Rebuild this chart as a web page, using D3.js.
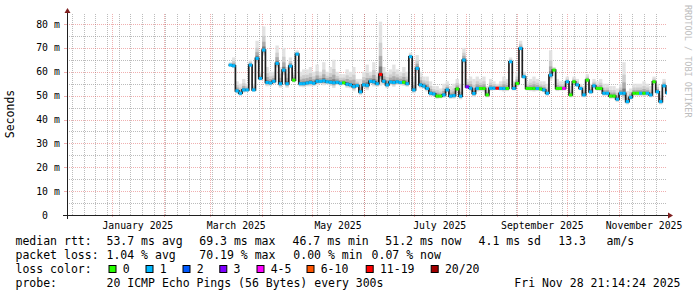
<!DOCTYPE html>
<html>
<head>
<meta charset="utf-8">
<script src="https://cdn.jsdelivr.net/npm/d3@7"></script>
<style>
body { margin: 0; background: #fff; }
svg { display: block; font-family: "DejaVu Sans Mono", monospace; }
</style>
</head>
<body>
<svg id="graph" width="697" height="297"></svg>
<script>
// data, one sample every 2 days from Mar 12 2025
const startData = new Date(2025, 2, 12);
const stepDays = 2;

const medianMs = [
  62.8, 62.5, 52.0, 51.0, 52.4, 52.4, 62.8, 52.4, 65.6, 57.2,
  69.1, 55.5, 55.3, 56.0, 63.5, 55.0, 60.7, 55.0, 62.4, 56.5,
  67.4, 55.0, 55.0, 55.3, 55.5, 55.2, 56.0, 56.0, 56.2, 55.8,
  55.6, 55.4, 55.6, 55.2, 55.4, 54.8, 54.5, 53.8, 54.2, 51.6,
  54.5, 54.3, 56.0, 55.8, 55.0, 58.9, 56.0, 54.5, 55.7, 55.5,
  55.8, 55.5, 55.6, 55.0, 66.3, 52.4, 61.4, 54.5, 54.0, 53.0,
  51.0, 50.7, 49.8, 49.8, 50.3, 52.4, 49.8, 50.0, 52.8, 49.8,
  64.9, 53.7, 53.1, 50.9, 53.0, 53.0, 53.0, 50.3, 53.1, 53.1,
  53.1, 53.0, 53.0, 53.0, 64.2, 53.0, 55.1, 69.8, 57.9, 53.0,
  53.0, 53.0, 53.0, 52.8, 52.4, 51.0, 58.6, 60.7, 53.0, 53.0,
  53.0, 55.8, 50.3, 55.8, 54.5, 53.0, 50.3, 56.5, 51.6, 54.1,
  53.0, 53.0, 51.0, 51.0, 49.8, 49.8, 48.5, 51.0, 51.0, 47.5,
  49.3, 51.0, 51.0, 51.0, 51.0, 51.0, 50.3, 55.8, 51.6, 47.5,
  54.1, 51.2
];

// upper edge of the smoke (slowest pings)
const smokeTopMs = [
  64, 66, 56, 55, 57, 55, 65, 55, 73, 60,
  79, 62, 60, 60, 71, 62, 70, 62, 66, 60,
  69, 60, 61, 61, 62, 60, 63, 60, 64, 60,
  62, 65, 60, 59, 59, 61, 60, 62, 57, 57,
  60, 63, 60, 64, 60, 81, 62, 60, 61, 63,
  61, 60, 62, 60, 68, 58, 67, 60, 58, 58,
  56, 54, 54, 53, 55, 56, 54, 55, 57, 55,
  70, 57, 58, 57, 58, 57, 58, 54, 57, 56,
  55, 56, 58, 57, 66, 56, 60, 73, 60, 56,
  57, 58, 57, 56, 56, 55, 69, 62, 57, 56,
  56, 58, 54, 58, 57, 55, 54, 59, 55, 57,
  56, 57, 55, 55, 54, 54, 53, 55, 64, 52,
  53, 55, 55, 55, 56, 55, 54, 58, 55, 52,
  57, 54
];

// loss class of each sample (index into lossLabels)
const lossIdx = [
  1, 1, 1, 1, 1, 1, 1, 1, 1, 1,
  1, 1, 1, 1, 1, 1, 1, 1, 1, 0,
  1, 1, 1, 1, 1, 1, 1, 1, 1, 1,
  1, 1, 1, 1, 0, 1, 1, 1, 1, 1,
  1, 1, 1, 1, 1, 6, 1, 1, 1, 1,
  1, 1, 0, 1, 1, 1, 1, 1, 1, 1,
  1, 1, 0, 0, 1, 1, 1, 1, 0, 1,
  1, 3, 1, 1, 1, 0, 0, 0, 1, 1,
  6, 1, 1, 0, 1, 1, 0, 1, 1, 0,
  0, 0, 1, 0, 1, 1, 1, 0, 0, 0,
  4, 1, 0, 0, 1, 1, 1, 0, 1, 1,
  0, 0, 1, 1, 0, 0, 1, 1, 1, 1,
  1, 0, 0, 1, 0, 1, 1, 0, 1, 1,
  1, 1
];

const lossLabels = ["0", "1", "2", "3", "4-5", "6-10", "11-19", "20/20"];
const lossColors = ["#26ff00", "#00b8ff", "#0059ff", "#7e00ff", "#ff00ff", "#ff5500", "#ff0000", "#a10000"];

const yTicks = [0, 10, 20, 30, 40, 50, 60, 70, 80];
const xTickLabels = ["January 2025", "March 2025", "May 2025", "July 2025", "September 2025", "November 2025"];

const rttStats = ["53.7 ms avg", "69.3 ms max", "46.7 ms min", "51.2 ms now", "4.1 ms sd", "13.3", "am/s"];
const lossStats = ["1.04 % avg", "70.19 % max", "0.00 % min", "0.07 % now"];
const probeText = "20 ICMP Echo Pings (56 Bytes) every 300s";
const stampText = "Fri Nov 28 21:14:24 2025";

// layout
const plotLeft = 67, plotRight = 667, plotTop = 14, plotBottom = 215;
const svg = d3.select('#graph');

const x = d3.scaleTime()
    .domain([new Date(2024, 11, 5, 0, 30), new Date(2025, 10, 29, 18, 30)])
    .range([plotLeft, plotRight]);
const y = d3.scaleLinear()
    .domain([0, 84.2])
    .range([plotBottom, plotTop]);

const gridCol = 'rgba(143,143,143,0.6)';
const mgridCol = 'rgba(222,79,79,0.45)';

// minor grid
const grid = svg.append('g').attr('shape-rendering', 'crispEdges');
grid.selectAll('.hmin')
    .data(d3.range(5, 84, 5).filter(v => v % 10 !== 0))
    .enter().append('line')
    .attr('x1', plotLeft).attr('x2', plotRight)
    .attr('y1', d => Math.round(y(d)) + 0.5).attr('y2', d => Math.round(y(d)) + 0.5)
    .attr('stroke', gridCol).attr('stroke-dasharray', '1,1');
grid.selectAll('.vmin')
    .data(d3.timeSunday.range(x.domain()[0], x.domain()[1]))
    .enter().append('line')
    .attr('x1', d => Math.round(x(d)) + 0.5).attr('x2', d => Math.round(x(d)) + 0.5)
    .attr('y1', plotTop).attr('y2', plotBottom)
    .attr('stroke', gridCol).attr('stroke-dasharray', '1,1');

// major grid
grid.selectAll('.hmaj')
    .data(yTicks)
    .enter().append('line')
    .attr('x1', plotLeft).attr('x2', plotRight)
    .attr('y1', d => Math.round(y(d)) + 0.5).attr('y2', d => Math.round(y(d)) + 0.5)
    .attr('stroke', mgridCol).attr('stroke-dasharray', '1,1');
grid.selectAll('.hmajtick')
    .data(yTicks)
    .enter().append('line')
    .attr('x1', plotLeft - 3).attr('x2', plotLeft)
    .attr('y1', d => Math.round(y(d)) + 0.5).attr('y2', d => Math.round(y(d)) + 0.5)
    .attr('stroke', mgridCol);
grid.selectAll('.vmaj')
    .data(d3.timeMonth.range(x.domain()[0], x.domain()[1]))
    .enter().append('line')
    .attr('x1', d => Math.round(x(d)) + 0.5).attr('x2', d => Math.round(x(d)) + 0.5)
    .attr('y1', plotTop).attr('y2', plotBottom + 2)
    .attr('stroke', mgridCol).attr('stroke-dasharray', '1,1');

// the data
const samples = medianMs.map((m, i) => ({
  t0: d3.timeDay.offset(startData, i * stepDays),
  t1: d3.timeDay.offset(startData, (i + 1) * stepDays),
  med: m,
  hi: smokeTopMs[i],
  loss: lossIdx[i]
}));

svg.append('clipPath').attr('id', 'plot')
  .append('rect').attr('x', plotLeft).attr('y', plotTop)
  .attr('width', plotRight - plotLeft).attr('height', plotBottom - plotTop);

const chart = svg.append('g').attr('clip-path', 'url(#plot)');

// smoke, lighter the farther from the median
const shades = [[1.0, '#e2e2e2'], [0.6, '#cdcdcd'], [0.35, '#ababab'], [0.15, '#7c7c7c']];
shades.forEach(([f, col]) => {
  chart.append('g').selectAll('rect')
    .data(samples)
    .enter().append('rect')
    .attr('x', d => x(d.t0))
    .attr('width', d => x(d.t1) - x(d.t0))
    .attr('y', d => y(d.med + f * (d.hi - d.med)))
    .attr('height', d => y(d.med - f * 0.2 * (d.hi - d.med) - 0.3) - y(d.med + f * (d.hi - d.med)))
    .attr('fill', col);
});

// median line
const medLine = d3.line()
    .x(d => x(d[0]))
    .y(d => y(d[1]))
    .curve(d3.curveStepAfter);
const pts = samples.map(d => [d.t0, d.med]);
pts.push([samples[samples.length - 1].t1, samples[samples.length - 1].med]);
chart.append('path')
    .attr('d', medLine(pts))
    .attr('fill', 'none')
    .attr('stroke', '#202020')
    .attr('stroke-width', 1.7);

// median coloured by loss
chart.append('g').selectAll('rect')
    .data(samples)
    .enter().append('rect')
    .attr('x', d => x(d.t0))
    .attr('width', d => x(d.t1) - x(d.t0))
    .attr('y', d => y(d.med) - 1.5)
    .attr('height', 3)
    .attr('fill', d => lossColors[d.loss]);

// axes
svg.append('line')
    .attr('x1', plotLeft - 4).attr('x2', plotRight + 3)
    .attr('y1', plotBottom + 0.5).attr('y2', plotBottom + 0.5)
    .attr('stroke', '#1f1f1f').attr('shape-rendering', 'crispEdges');
svg.append('line')
    .attr('x1', plotLeft + 0.5).attr('x2', plotLeft + 0.5)
    .attr('y1', plotBottom + 4).attr('y2', plotTop - 2)
    .attr('stroke', '#1f1f1f').attr('shape-rendering', 'crispEdges');
svg.append('path')
    .attr('d', `M${plotRight + 1},${plotBottom - 2.5} L${plotRight + 6},${plotBottom + 0.5} L${plotRight + 1},${plotBottom + 3.5} Z`)
    .attr('fill', '#7f1f1f');
svg.append('path')
    .attr('d', `M${plotLeft - 2.5},${plotTop - 1} L${plotLeft + 0.5},${plotTop - 6} L${plotLeft + 3.5},${plotTop - 1} Z`)
    .attr('fill', '#7f1f1f');

// y labels
svg.append('g').selectAll('text')
    .data(yTicks)
    .enter().append('text')
    .attr('x', d => d === 0 ? 48 : 59.8)
    .attr('y', d => y(d))
    .attr('dy', '0.36em')
    .attr('text-anchor', 'end')
    .attr('font-size', '9.8px')
    .attr('fill', '#000')
    .text(d => d === 0 ? '0' : d + ' m');

// x labels, centred on their month
const parseMonth = d3.timeParse('%B %Y');
svg.append('g').selectAll('text')
    .data(xTickLabels)
    .enter().append('text')
    .attr('x', d => {
      const m0 = parseMonth(d);
      return (x(m0) + x(d3.timeMonth.offset(m0, 1))) / 2;
    })
    .attr('y', 229)
    .attr('text-anchor', 'middle')
    .attr('font-size', '9.8px')
    .attr('fill', '#000')
    .text(d => d);

svg.append('text')
    .attr('transform', 'translate(14,114) rotate(-90)')
    .attr('text-anchor', 'middle')
    .attr('font-size', '11.5px')
    .text('Seconds');

svg.append('text')
    .attr('transform', 'translate(685,5) rotate(90)')
    .attr('font-size', '8.5px')
    .attr('fill', '#bdbdbd')
    .text('RRDTOOL / TOBI OETIKER');

// legend
const legend = svg.append('g').attr('font-size', '11.5px').attr('fill', '#000');
const row = [245, 259, 273, 287];

legend.append('text').attr('x', 15.5).attr('y', row[0]).text('median rtt:');
const rttX = [106.5, 199.3, 292.6, 385.3, 478.6, 558.3, 606.6];
rttStats.forEach((s, i) => legend.append('text').attr('x', rttX[i]).attr('y', row[0]).text(s));

legend.append('text').attr('x', 15.5).attr('y', row[1]).text('packet loss:');
const lossX = [106.5, 199.3, 293.3, 371.6];
lossStats.forEach((s, i) => legend.append('text').attr('x', lossX[i]).attr('y', row[1]).text(s));

legend.append('text').attr('x', 15.5).attr('y', row[2]).text('loss color:');
const boxX = [108.5, 145.5, 182.5, 219.3, 256.5, 306.5, 365.7, 430.7];
lossLabels.forEach((s, i) => {
  legend.append('rect')
    .attr('x', boxX[i] + 0.5).attr('y', row[2] - 7.5)
    .attr('width', 7).attr('height', 7)
    .attr('fill', lossColors[i])
    .attr('stroke', '#000').attr('stroke-width', 1);
  legend.append('text').attr('x', boxX[i] + 14.2).attr('y', row[2]).text(s);
});

legend.append('text').attr('x', 15.5).attr('y', row[3]).text('probe:');
legend.append('text').attr('x', 106.5).attr('y', row[3]).text(probeText);
legend.append('text').attr('x', 680.5).attr('y', row[3]).attr('text-anchor', 'end').text(stampText);
</script>
</body>
</html>
